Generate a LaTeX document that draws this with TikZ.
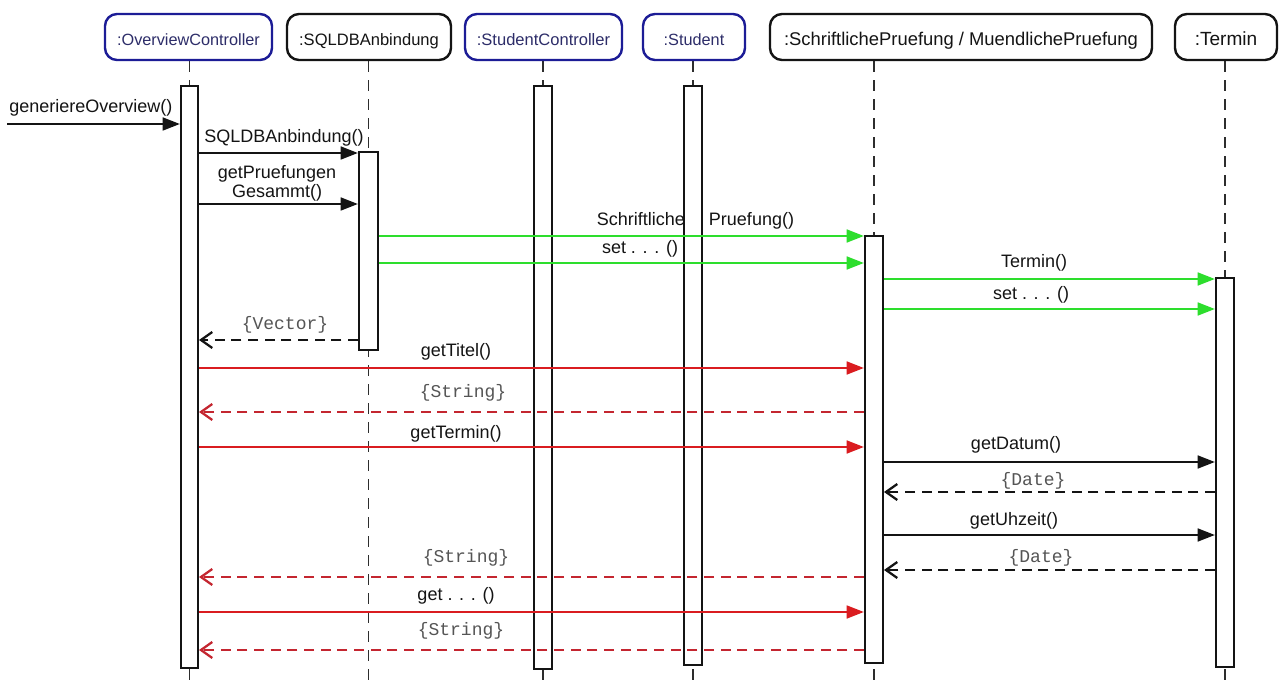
\documentclass[tikz,border=0pt]{standalone}
\usepackage{fontspec}
\setmainfont{Liberation Sans}
\newfontfamily\retfont{Liberation Mono}
\usetikzlibrary{arrows.meta,fit}
\pgfdeclarelayer{back}
\pgfdeclarelayer{mid}
\pgfdeclarelayer{front}
\pgfsetlayers{back,mid,main,front}

\definecolor{objblue}{RGB}{28,28,150}
\definecolor{objtext}{RGB}{45,45,105}
\definecolor{ink}{RGB}{20,20,20}
\definecolor{lifegray}{RGB}{45,45,45}
\definecolor{retgray}{RGB}{85,85,85}
\definecolor{callgreen}{RGB}{45,222,45}
\definecolor{callred}{RGB}{218,28,32}
\definecolor{retred}{RGB}{196,38,48}

\newcommand\headsize[1]{\fontsize{#1}{15}\selectfont}

\tikzset{
  head/.style={draw=ink, line width=1.8pt, rounded corners=9pt, minimum height=34.5pt,
    inner sep=0pt, text height=13pt, text depth=0pt, text=ink},
  headblue/.style={head, draw=objblue, text=objtext},
  actbar/.style={draw=ink, fill=white, line width=1.5pt, inner sep=0pt},
  life/.style={draw=lifegray, line width=1pt, dash pattern=on 8.25pt off 6pt},
  msg/.style={inner sep=0pt, text=ink, align=center, font=\fontsize{13.5}{14.25}\selectfont},
  retlabel/.style={inner sep=0pt, text=retgray, font=\retfont\fontsize{13.5}{14}\selectfont},
  call/.style={line width=2pt, -{Triangle[length=13pt,width=9.5pt]}},
  reply/.style={line width=2pt, dash pattern=on 7.5pt off 5pt,
    -{Straight Barb[length=8.5pt,width=12pt,line width=1.7pt]}},
}

\begin{document}
\begin{tikzpicture}[x=0.75pt,y=-0.75pt]
\useasboundingbox (0,0) rectangle (1279,681);
\begin{pgfonlayer}{back}
  \fill[white] (0,0) rectangle (1279,681);
\end{pgfonlayer}

% object heads
\node[headblue, minimum width=125.25pt, font=\headsize{12.2}] (ov)  at (188.5,37) {:OverviewController};
\node[head,     minimum width=123pt,    font=\headsize{12.4}] (sql) at (369,37)   {:SQLDBAnbindung};
\node[headblue, minimum width=117.75pt, font=\headsize{12.4}] (sc)  at (543.5,37) {:StudentController};
\node[headblue, minimum width=76.5pt,   font=\headsize{12.2}] (st)  at (694,37)   {:Student};
\node[head,     minimum width=286.5pt,  font=\headsize{13.8}] (sp)  at (961,37)   {:SchriftlichePruefung / MuendlichePruefung};
\node[head,     minimum width=76.5pt,   font=\headsize{14.3}] (te)  at (1226,37)  {:Termin};

% activation bars
\node[actbar, fit={(181,86) (198,668)}]   (ovbar)  {};
\node[actbar, fit={(359,152) (378,350)}]  (sqlbar) {};
\node[actbar, fit={(534,86) (552,669)}]   (scbar)  {};
\node[actbar, fit={(684,86) (702,665)}]   (stbar)  {};
\node[actbar, fit={(865,236) (883,663)}]  (spbar)  {};
\node[actbar, fit={(1216,278) (1234,667)}] (tebar) {};

% lifelines behind the bars
\begin{pgfonlayer}{back}
  \foreach \h/\b in {ov/ovbar, sql/sqlbar, sc/scbar, st/stbar, sp/spbar, te/tebar}
    \draw[life] (\b.center |- \h.south) -- (\b.center |- 0,681);
\end{pgfonlayer}

% message labels (the bars are drawn over them)
\begin{pgfonlayer}{mid}
  \node[msg, anchor=west] (lgen) at (9,108) {generiereOverview()};
  \node[msg] (lsql)  at (284,138) {SQLDBAnbindung()};
  \node[msg] (lges)  at (277,183.5) {getPruefungen\\Gesammt()};
  \node[msg] (lsp)   at (695.5,221) {Schriftliche\hspace{18pt}Pruefung()};
  \node[msg] (lset1) at (640,249) {set . . . ()};
  \node[msg] (lter)  at (1034,263) {Termin()};
  \node[msg] (lset2) at (1031,295) {set . . . ()};
  \node[retlabel] (lvec) at (285,325) {\{Vector\}};
  \node[msg] (ltit)  at (456,352) {getTitel()};
  \node[retlabel] (lstr1) at (463,393) {\{String\}};
  \node[msg] (lgter) at (456,434) {getTermin()};
  \node[msg] (ldat)  at (1016,445) {getDatum()};
  \node[retlabel] (ldate1) at (1033,481) {\{Date\}};
  \node[msg] (luhr)  at (1014,521) {getUhzeit()};
  \node[retlabel] (ldate2) at (1041,558) {\{Date\}};
  \node[retlabel] (lstr2) at (466,558) {\{String\}};
  \node[msg] (lget)  at (456,596) {get . . . ()};
  \node[retlabel] (lstr3) at (461,631) {\{String\}};
\end{pgfonlayer}

% messages
\begin{pgfonlayer}{front}
  \coordinate (entry) at (7,124);
  \draw[call, draw=ink, fill=ink] (entry) -- (ovbar.west |- 0,124);
  \draw[call, draw=ink, fill=ink] (ovbar.east |- 0,153) -- (sqlbar.west |- 0,153);
  \draw[call, draw=ink, fill=ink] (ovbar.east |- 0,204) -- (sqlbar.west |- 0,204);

  \draw[call, draw=callgreen, fill=callgreen] (sqlbar.east |- 0,236) -- (spbar.west |- 0,236);
  \draw[call, draw=callgreen, fill=callgreen] (sqlbar.east |- 0,263) -- (spbar.west |- 0,263);
  \draw[call, draw=callgreen, fill=callgreen] (spbar.east |- 0,279) -- (tebar.west |- 0,279);
  \draw[call, draw=callgreen, fill=callgreen] (spbar.east |- 0,309) -- (tebar.west |- 0,309);

  \draw[reply, draw=ink] (sqlbar.west |- 0,340) -- (ovbar.east |- 0,340);

  \draw[call, draw=callred, fill=callred] (ovbar.east |- 0,368) -- (spbar.west |- 0,368);
  \draw[reply, draw=retred] (spbar.west |- 0,412) -- (ovbar.east |- 0,412);
  \draw[call, draw=callred, fill=callred] (ovbar.east |- 0,447) -- (spbar.west |- 0,447);

  \draw[call, draw=ink, fill=ink] (spbar.east |- 0,462) -- (tebar.west |- 0,462);
  \draw[reply, draw=ink] (tebar.west |- 0,492) -- (spbar.east |- 0,492);
  \draw[call, draw=ink, fill=ink] (spbar.east |- 0,535) -- (tebar.west |- 0,535);
  \draw[reply, draw=ink] (tebar.west |- 0,570) -- (spbar.east |- 0,570);

  \draw[reply, draw=retred] (spbar.west |- 0,577) -- (ovbar.east |- 0,577);
  \draw[call, draw=callred, fill=callred] (ovbar.east |- 0,612) -- (spbar.west |- 0,612);
  \draw[reply, draw=retred] (spbar.west |- 0,650) -- (ovbar.east |- 0,650);
\end{pgfonlayer}
\end{tikzpicture}
\end{document}
